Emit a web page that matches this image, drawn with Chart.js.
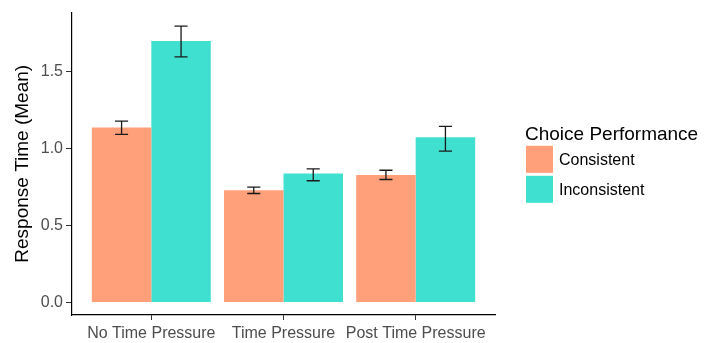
<!DOCTYPE html>
<html lang="en">
<head>
    <meta charset="UTF-8">
    <title>Response Time by Choice Performance</title>
    <script src="https://cdn.jsdelivr.net/npm/chart.js@4.4.1/dist/chart.umd.min.js"></script>
    <style>
        html, body { margin: 0; padding: 0; background: #fff; }
        #chart { display: block; }
    </style>
</head>
<body>
    <canvas id="chart" width="705" height="343"></canvas>
    <script>
        // data
        const categories = ['No Time Pressure', 'Time Pressure', 'Post Time Pressure'];
        const seriesNames = ['Consistent', 'Inconsistent'];
        const consistent = [1.137, 0.729, 0.829];
        const inconsistent = [1.699, 0.838, 1.073];
        const consistentLow = [1.092, 0.708, 0.799];
        const consistentHigh = [1.178, 0.750, 0.859];
        const inconsistentLow = [1.596, 0.791, 0.983];
        const inconsistentHigh = [1.795, 0.868, 1.144];
        const yTicks = [0, 0.5, 1.0, 1.5];

        const colors = ['#FFA07A', '#40E0D0'];
        const errLow = [consistentLow, inconsistentLow];
        const errHigh = [consistentHigh, inconsistentHigh];
        const FONT = "'Liberation Sans', Arial, sans-serif";

        // error bars on top of each bar
        const errorBars = {
            id: 'errorBars',
            afterDatasetsDraw(chart) {
                const ctx = chart.ctx;
                const y = chart.scales.y;
                ctx.save();
                ctx.strokeStyle = '#1a1a1a';
                ctx.lineWidth = 1.3;
                chart.data.datasets.forEach((ds, i) => {
                    const meta = chart.getDatasetMeta(i);
                    meta.data.forEach((bar, j) => {
                        const lo = y.getPixelForValue(errLow[i][j]);
                        const hi = y.getPixelForValue(errHigh[i][j]);
                        const half = bar.width * 0.11;
                        ctx.beginPath();
                        ctx.moveTo(bar.x, lo); ctx.lineTo(bar.x, hi);
                        ctx.moveTo(bar.x - half, lo); ctx.lineTo(bar.x + half, lo);
                        ctx.moveTo(bar.x - half, hi); ctx.lineTo(bar.x + half, hi);
                        ctx.stroke();
                    });
                });
                ctx.restore();
            }
        };

        // legend on the right, ggplot style
        const sideLegend = {
            id: 'sideLegend',
            afterDraw(chart) {
                const ctx = chart.ctx;
                const area = chart.chartArea;
                const x0 = area.right + 31;
                const midY = (area.top + area.bottom) / 2;
                ctx.save();
                ctx.fillStyle = '#000';
                ctx.font = '19px ' + FONT;
                ctx.textBaseline = 'alphabetic';
                ctx.textAlign = 'left';
                ctx.fillText('Choice Performance', x0 - 1, midY - 24);
                ctx.font = '16px ' + FONT;
                ctx.textBaseline = 'middle';
                seriesNames.forEach((name, i) => {
                    const top = midY - 18 + i * 30;
                    ctx.fillStyle = colors[i];
                    ctx.fillRect(x0, top, 27, 27);
                    ctx.fillStyle = '#000';
                    ctx.fillText(name, x0 + 33, top + 14.5);
                });
                ctx.restore();
            }
        };

        new Chart(document.getElementById('chart'), {
            type: 'bar',
            data: {
                datasets: seriesNames.map((name, i) => ({
                    label: name,
                    data: (i === 0 ? consistent : inconsistent).map((v, k) => ({ x: k + 1, y: v })),
                    backgroundColor: colors[i],
                    borderWidth: 0,
                    categoryPercentage: 0.9,
                    barPercentage: 1.0
                }))
            },
            options: {
                responsive: false,
                animation: false,
                devicePixelRatio: 1,
                layout: { padding: { top: 9, right: 210, left: 0, bottom: 0 } },
                plugins: {
                    legend: { display: false },
                    tooltip: { enabled: false }
                },
                scales: {
                    x: {
                        type: 'linear',
                        min: 0.4,
                        max: 3.6,
                        offset: false,
                        afterBuildTicks: s => { s.ticks = categories.map((c, k) => ({ value: k + 1 })); },
                        afterFit: s => { s.height = 28; },
                        ticks: {
                            callback: v => categories[v - 1],
                            color: '#4D4D4D',
                            font: { family: FONT, size: 16 },
                            padding: 4,
                            maxRotation: 0,
                            autoSkip: false
                        },
                        grid: {
                            offset: false,
                            drawOnChartArea: false,
                            drawTicks: true,
                            tickLength: 5,
                            color: '#333'
                        },
                        border: { display: true, color: '#000', width: 1.2 }
                    },
                    y: {
                        min: -0.081,
                        max: 1.883,
                        afterBuildTicks: s => { s.ticks = yTicks.map(v => ({ value: v })); },
                        afterFit: s => { s.width = 72; },
                        ticks: {
                            callback: v => v.toFixed(1),
                            color: '#4D4D4D',
                            font: { family: FONT, size: 16 },
                            padding: 3
                        },
                        grid: {
                            drawOnChartArea: false,
                            drawTicks: true,
                            tickLength: 6,
                            color: '#333'
                        },
                        border: { display: true, color: '#000', width: 1.2 },
                        title: {
                            display: true,
                            text: 'Response Time (Mean)',
                            color: '#000',
                            font: { family: FONT, size: 19 },
                            padding: { top: 11, bottom: 0 }
                        }
                    }
                }
            },
            plugins: [errorBars, sideLegend]
        });
    </script>
</body>
</html>
